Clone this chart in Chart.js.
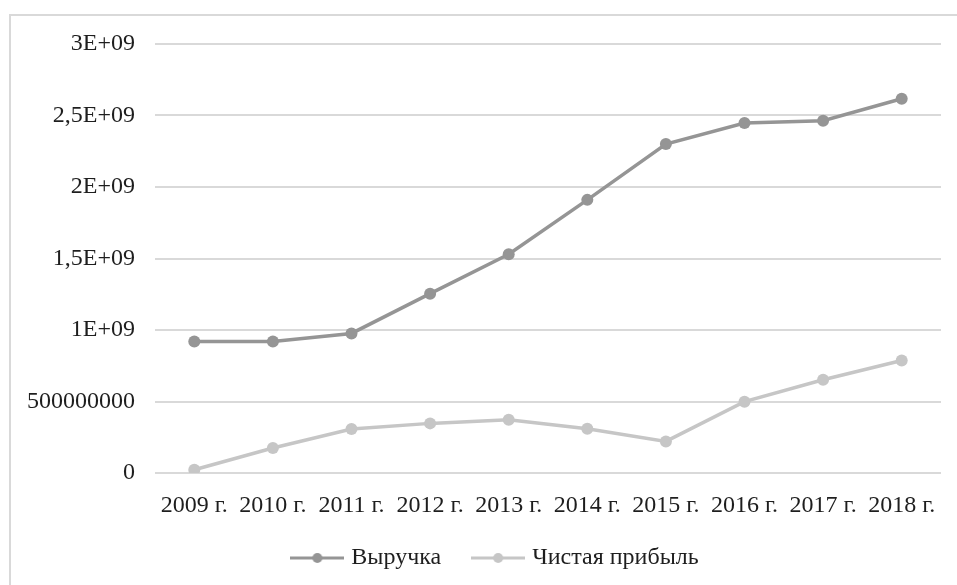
<!DOCTYPE html>
<html>
<head>
<meta charset="utf-8">
<script src="https://cdn.jsdelivr.net/npm/chart.js@4"></script>
<style>
  html, body { margin: 0; padding: 0; background: #fff; overflow: hidden; }
  #frame {
    position: absolute; left: 9px; top: 14px;
    width: 1000px; height: 1000px;
    border: 2px solid #d9d9d9;
  }
  #wrap { position: absolute; left: 0; top: 0; width: 957px; height: 585px; }
</style>
</head>
<body>
<div id="frame"></div>
<div id="wrap"><canvas id="myChart" width="957" height="585"></canvas></div>
<script>
const years = ["2009 г.", "2010 г.", "2011 г.", "2012 г.", "2013 г.", "2014 г.", "2015 г.", "2016 г.", "2017 г.", "2018 г."];
const revenue = [920000000, 920000000, 976000000, 1254000000, 1530000000, 1910000000, 2300000000, 2447000000, 2464000000, 2617000000];
const netProfit = [23000000, 175000000, 308000000, 347000000, 373000000, 310000000, 221000000, 499000000, 652000000, 787000000];
const yTickLabels = ["0", "500000000", "1E+09", "1,5E+09", "2E+09", "2,5E+09", "3E+09"];

const textColor = "#1e1e1e";
const font = { family: "'Liberation Serif', 'Times New Roman', serif", size: 24 };

// little line-with-dot marker for the legend
function legendMarker(color) {
  const c = document.createElement("canvas");
  c.width = 54;
  c.height = 12;
  const g = c.getContext("2d");
  g.strokeStyle = color;
  g.lineWidth = 3;
  g.beginPath();
  g.moveTo(0, 6);
  g.lineTo(54, 6);
  g.stroke();
  g.fillStyle = color;
  g.beginPath();
  g.arc(27, 6, 5, 0, Math.PI * 2);
  g.fill();
  return c;
}

const colors = ["#959595", "#c6c6c6"];
const markers = colors.map(legendMarker);

// legend sits a bit right of centre and overlaps the x-axis box like in the original
const legendPlacement = {
  id: "legendPlacement",
  beforeInit(chart) {
    if (!chart.legend) return;
    const fit = chart.legend.fit;
    chart.legend.fit = function () {
      fit.call(this);
      this.height = 62;
    };
  },
  afterLayout(chart) {
    const lg = chart.legend;
    if (!lg) return;
    lg.left = 53;
    lg.right = 941;
    lg.width = lg.right - lg.left;
    lg.top = 511;
    lg.bottom = 585;
    lg.height = 74;
  },
};

new Chart(document.getElementById("myChart"), {
  type: "line",
  data: {
    labels: years,
    datasets: [
      {
        label: "Выручка",
        data: revenue,
        borderColor: colors[0],
        backgroundColor: colors[0],
        borderWidth: 3.5,
        pointRadius: 6,
        pointBorderWidth: 0,
        tension: 0,
      },
      {
        label: "Чистая прибыль",
        data: netProfit,
        borderColor: colors[1],
        backgroundColor: colors[1],
        borderWidth: 3.5,
        pointRadius: 6,
        pointBorderWidth: 0,
        tension: 0,
      },
    ],
  },
  options: {
    responsive: false,
    animation: false,
    layout: { padding: { top: 44, right: 16, bottom: 0, left: 0 } },
    scales: {
      x: {
        offset: true,
        grid: { display: false },
        border: { display: false },
        ticks: { color: textColor, font: font, padding: 10, maxRotation: 0, autoSkip: false },
        afterFit(scale) {
          scale.height = 50;
        },
      },
      y: {
        min: 0,
        max: 3000000000,
        grid: { color: "#d9d9d9", lineWidth: 2, drawTicks: false },
        border: { display: false },
        ticks: {
          stepSize: 500000000,
          color: textColor,
          font: font,
          padding: 20,
          callback: (value, i) => yTickLabels[i],
        },
        afterFit(scale) {
          scale.width = 155;
        },
      },
    },
    plugins: {
      tooltip: { enabled: false },
      legend: {
        position: "bottom",
        labels: {
          color: textColor,
          font: font,
          usePointStyle: true,
          pointStyleWidth: 44,
          padding: 35,
          generateLabels(chart) {
            const items = Chart.defaults.plugins.legend.labels.generateLabels(chart);
            items.forEach((item, i) => {
              item.pointStyle = markers[i];
            });
            return items;
          },
        },
      },
    },
  },
  plugins: [legendPlacement],
});
</script>
</body>
</html>
